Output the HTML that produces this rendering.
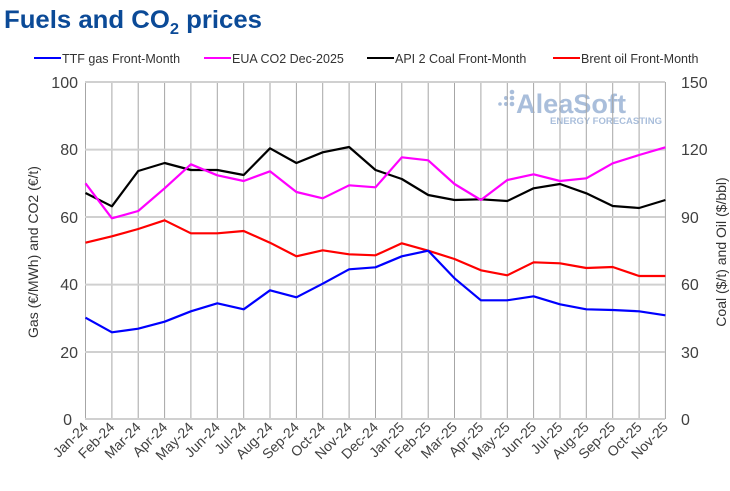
<!DOCTYPE html>
<html><head><meta charset="utf-8"><style>
html,body{margin:0;padding:0;background:#fff;width:730px;height:491px;overflow:hidden}
svg{display:block;font-family:"Liberation Sans","DejaVu Sans",sans-serif}
</style></head><body>
<svg width="730" height="491" viewBox="0 0 730 491" xmlns="http://www.w3.org/2000/svg">
<text x="4" y="28" font-size="25" font-weight="bold" fill="#0b4a97" font-family="Liberation Sans Narrow, Liberation Sans, sans-serif" textLength="258" lengthAdjust="spacingAndGlyphs">Fuels and CO<tspan font-size="16" dy="6">2</tspan><tspan dy="-6"> prices</tspan></text>
<g font-size="12.5" fill="#333">
<line x1="34" y1="58" x2="61" y2="58" stroke="#0000ff" stroke-width="2"/><text x="62" y="63">TTF gas Front-Month</text>
<line x1="204" y1="58" x2="231" y2="58" stroke="#ff00ff" stroke-width="2"/><text x="232" y="63">EUA CO2 Dec-2025</text>
<line x1="367" y1="58" x2="394" y2="58" stroke="#000" stroke-width="2"/><text x="395" y="63">API 2 Coal Front-Month</text>
<line x1="553" y1="58" x2="580" y2="58" stroke="#ff0000" stroke-width="2"/><text x="581" y="63">Brent oil Front-Month</text>
</g>
<g fill="#a9bedb" font-weight="bold">
<circle cx="500" cy="104" r="1.8"/><circle cx="506" cy="104" r="2"/><circle cx="506" cy="98" r="2"/><circle cx="512" cy="104" r="2.3"/><circle cx="512" cy="98" r="2.3"/><circle cx="512" cy="92" r="2.3"/>
<text x="516" y="113" font-size="27" textLength="110" lengthAdjust="spacingAndGlyphs">AleaSoft</text>
<text x="550" y="124" font-size="9" textLength="112" lengthAdjust="spacingAndGlyphs">ENERGY FORECASTING</text>
</g>
<g stroke="#a6a6a6" stroke-width="1">
<line x1="85.5" y1="82" x2="85.5" y2="419"/><line x1="111.9" y1="82" x2="111.9" y2="419"/><line x1="138.2" y1="82" x2="138.2" y2="419"/><line x1="164.6" y1="82" x2="164.6" y2="419"/><line x1="190.9" y1="82" x2="190.9" y2="419"/><line x1="217.3" y1="82" x2="217.3" y2="419"/><line x1="243.7" y1="82" x2="243.7" y2="419"/><line x1="270" y1="82" x2="270" y2="419"/><line x1="296.4" y1="82" x2="296.4" y2="419"/><line x1="322.7" y1="82" x2="322.7" y2="419"/><line x1="349.1" y1="82" x2="349.1" y2="419"/><line x1="375.5" y1="82" x2="375.5" y2="419"/><line x1="401.8" y1="82" x2="401.8" y2="419"/><line x1="428.2" y1="82" x2="428.2" y2="419"/><line x1="454.5" y1="82" x2="454.5" y2="419"/><line x1="480.9" y1="82" x2="480.9" y2="419"/><line x1="507.3" y1="82" x2="507.3" y2="419"/><line x1="533.6" y1="82" x2="533.6" y2="419"/><line x1="560" y1="82" x2="560" y2="419"/><line x1="586.3" y1="82" x2="586.3" y2="419"/><line x1="612.7" y1="82" x2="612.7" y2="419"/><line x1="639.1" y1="82" x2="639.1" y2="419"/><line x1="665.4" y1="82" x2="665.4" y2="419"/>
</g>
<g stroke="#d0d0d0" stroke-width="2">
<line x1="85" y1="82" x2="665" y2="82"/><line x1="85" y1="149.6" x2="665" y2="149.6"/><line x1="85" y1="217" x2="665" y2="217"/><line x1="85" y1="284.6" x2="665" y2="284.6"/><line x1="85" y1="352" x2="665" y2="352"/><line x1="85" y1="419" x2="665" y2="419"/>
</g>
<g font-size="16" fill="#404040" text-anchor="end">
<text x="78" y="88">100</text><text x="78" y="155">80</text><text x="78" y="223">60</text><text x="78" y="290">40</text><text x="78" y="358">20</text><text x="72" y="425">0</text>
</g>
<g font-size="16" fill="#404040">
<text x="681" y="88">150</text><text x="681" y="155">120</text><text x="681" y="223">90</text><text x="681" y="290">60</text><text x="681" y="358">30</text><text x="681" y="425">0</text>
</g>
<text transform="translate(38,252) rotate(-90)" text-anchor="middle" font-size="14" fill="#333">Gas (€/MWh) and CO2 (€/t)</text>
<text transform="translate(726,252) rotate(-90)" text-anchor="middle" font-size="14" fill="#333">Coal ($/t) and Oil ($/bbl)</text>
<g fill="none" stroke-width="2.2" stroke-linejoin="round">
<polyline stroke="#ff0000" points="85.5,242.7 111.9,236.3 138.2,229 164.6,220.3 190.9,233.3 217.3,233.3 243.7,231 270,242.7 296.4,256.3 322.7,250.3 349.1,254.3 375.5,255.3 401.8,243.3 428.2,250.7 454.5,259 480.9,270.3 507.3,275.3 533.6,262.3 560,263.3 586.3,268 612.7,267 639.1,276 665.4,276"/>
<polyline stroke="#0000ff" points="85.5,317.7 111.9,332.3 138.2,328.7 164.6,321.7 190.9,311.3 217.3,303.3 243.7,309.3 270,290.3 296.4,297.3 322.7,283.7 349.1,269.3 375.5,267.3 401.8,256.3 428.2,250.7 454.5,278.3 480.9,300.3 507.3,300.3 533.6,296.3 560,304.3 586.3,309.3 612.7,310 639.1,311.3 665.4,315.3"/>
<polyline stroke="#000" points="85.5,193 111.9,206.3 138.2,171 164.6,163 190.9,170 217.3,170 243.7,175 270,148.3 296.4,163 322.7,152.3 349.1,147 375.5,170 401.8,179 428.2,195 454.5,200 480.9,199.3 507.3,201 533.6,188.3 560,184 586.3,193.3 612.7,206 639.1,208 665.4,200"/>
<polyline stroke="#ff00ff" points="85.5,183.3 111.9,218.3 138.2,211 164.6,188.3 190.9,164.3 217.3,175.3 243.7,181 270,171.3 296.4,192 322.7,198.3 349.1,185.3 375.5,187.3 401.8,157.3 428.2,160.3 454.5,184 480.9,200 507.3,180 533.6,174.3 560,181 586.3,178.3 612.7,163.3 639.1,155 665.4,147.3"/>
</g>
<g font-size="14" fill="#404040" text-anchor="end">
<text transform="translate(89,428) rotate(-45)">Jan-24</text><text transform="translate(115.4,428) rotate(-45)">Feb-24</text><text transform="translate(141.7,428) rotate(-45)">Mar-24</text><text transform="translate(168.1,428) rotate(-45)">Apr-24</text><text transform="translate(194.4,428) rotate(-45)">May-24</text><text transform="translate(220.8,428) rotate(-45)">Jun-24</text><text transform="translate(247.2,428) rotate(-45)">Jul-24</text><text transform="translate(273.5,428) rotate(-45)">Aug-24</text><text transform="translate(299.9,428) rotate(-45)">Sep-24</text><text transform="translate(326.2,428) rotate(-45)">Oct-24</text><text transform="translate(352.6,428) rotate(-45)">Nov-24</text><text transform="translate(379,428) rotate(-45)">Dec-24</text><text transform="translate(405.3,428) rotate(-45)">Jan-25</text><text transform="translate(431.7,428) rotate(-45)">Feb-25</text><text transform="translate(458,428) rotate(-45)">Mar-25</text><text transform="translate(484.4,428) rotate(-45)">Apr-25</text><text transform="translate(510.8,428) rotate(-45)">May-25</text><text transform="translate(537.1,428) rotate(-45)">Jun-25</text><text transform="translate(563.5,428) rotate(-45)">Jul-25</text><text transform="translate(589.8,428) rotate(-45)">Aug-25</text><text transform="translate(616.2,428) rotate(-45)">Sep-25</text><text transform="translate(642.6,428) rotate(-45)">Oct-25</text><text transform="translate(668.9,428) rotate(-45)">Nov-25</text>
</g>
</svg>
</body></html>
